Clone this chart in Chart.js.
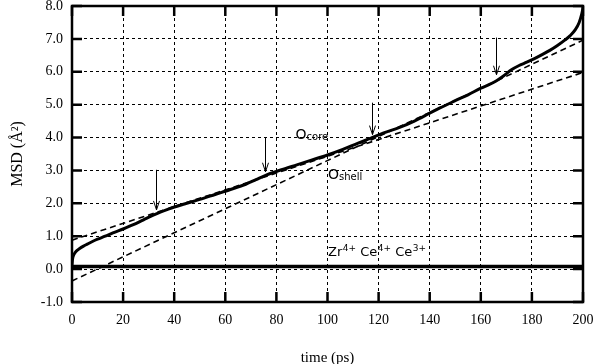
<!DOCTYPE html>
<html><head><meta charset="utf-8">
<script src="https://cdn.jsdelivr.net/npm/chart.js@4/dist/chart.umd.min.js"></script>
<style>html,body{margin:0;padding:0;background:#fff}</style>
</head><body>
<canvas id="c" width="596" height="364"></canvas>
<script>
// ---- data ----
const coreTime = [0, 0.2, 0.6, 1.2, 2, 3, 4.5, 6, 8, 10, 13, 16, 20, 24, 28, 33, 38, 44, 50, 56, 62, 68, 72, 76, 82, 88, 94, 100, 106, 112, 117, 122, 128, 134, 140, 144, 150, 155, 160, 163, 166, 169, 172, 175, 178, 181, 184, 187, 190, 193, 195, 197, 198.5, 199.5, 200];
const coreMSD  = [0.12, 0.30, 0.42, 0.50, 0.57, 0.63, 0.70, 0.76, 0.84, 0.91, 1.00, 1.10, 1.22, 1.35, 1.50, 1.68, 1.83, 1.98, 2.12, 2.27, 2.42, 2.58, 2.72, 2.86, 3.02, 3.17, 3.32, 3.47, 3.64, 3.83, 3.98, 4.14, 4.30, 4.50, 4.74, 4.90, 5.12, 5.30, 5.50, 5.60, 5.72, 5.88, 6.06, 6.19, 6.29, 6.40, 6.52, 6.65, 6.80, 6.97, 7.10, 7.28, 7.50, 7.75, 7.95];
const fitTime   = [0, 200];
const fitUpper  = [0.88, 5.98];
const fitLower  = [-0.36, 6.96];
const cationTime = [0, 200];
const cationMSD  = [0.08, 0.08];
const xTickValues = [0, 20, 40, 60, 80, 100, 120, 140, 160, 180, 200];
const yTickValues = [-1, 0, 1, 2, 3, 4, 5, 6, 7, 8];
const arrowTime = [33, 75.5, 117.5, 166];
const arrowFrom = [3.02, 3.99, 5.06, 7.04];
const arrowTo   = [1.80, 2.96, 4.09, 5.91];
const labelCore   = {t: 87.5, v: 3.96, main: 'O', sub: 'core'};
const labelShell  = {t: 100.2, v: 2.74, main: 'O', sub: 'shell'};
const labelCation = {t: 100.2, v: 0.40, parts: [['Zr','4+'],['Ce','4+'],['Ce','3+']]};

const pts = (xs, ys) => xs.map((x, i) => ({x: x, y: ys[i]}));

const serif = 'Liberation Serif';
const sans = 'DejaVu Sans';

const decor = {
  id: 'decor',
  afterDraw(chart) {
    const ctx = chart.ctx, a = chart.chartArea;
    const xs = chart.scales.x, ys = chart.scales.y;
    ctx.save();
    ctx.strokeStyle = '#000';
    ctx.fillStyle = '#000';
    ctx.lineWidth = 2.5;
    const tl = 10;
    ctx.beginPath();
    xTickValues.forEach(v => {
      const px = xs.getPixelForValue(v);
      ctx.moveTo(px, a.bottom); ctx.lineTo(px, a.bottom - tl);
      ctx.moveTo(px, a.top); ctx.lineTo(px, a.top + tl);
    });
    yTickValues.forEach(v => {
      const py = ys.getPixelForValue(v);
      ctx.moveTo(a.left, py); ctx.lineTo(a.left + tl, py);
      ctx.moveTo(a.right, py); ctx.lineTo(a.right - tl, py);
    });
    ctx.stroke();
    ctx.lineWidth = 2.5;
    ctx.strokeRect(a.left, a.top, a.right - a.left, a.bottom - a.top);
    ctx.lineWidth = 1;
    arrowTime.forEach((t, i) => {
      const px = Math.round(xs.getPixelForValue(t)) + 0.5;
      const y1 = ys.getPixelForValue(arrowFrom[i]);
      const y2 = ys.getPixelForValue(arrowTo[i]);
      ctx.beginPath();
      ctx.moveTo(px, y1); ctx.lineTo(px, y2);
      ctx.moveTo(px - 3, y2 - 9); ctx.lineTo(px, y2); ctx.lineTo(px + 3, y2 - 9);
      ctx.stroke();
    });
    ctx.textBaseline = 'alphabetic';
    ctx.textAlign = 'left';
    [labelCore, labelShell].forEach(L => {
      let x = xs.getPixelForValue(L.t), y = ys.getPixelForValue(L.v);
      ctx.font = '14px "' + sans + '"';
      ctx.fillText(L.main, x, y);
      x += ctx.measureText(L.main).width;
      ctx.font = '10px "' + sans + '"';
      ctx.fillText(L.sub, x, y + 1.5);
    });
    {
      let x = xs.getPixelForValue(labelCation.t), y = ys.getPixelForValue(labelCation.v);
      labelCation.parts.forEach(p => {
        ctx.font = '13px "' + sans + '"';
        ctx.fillText(p[0], x, y);
        x += ctx.measureText(p[0]).width;
        ctx.font = '9px "' + sans + '"';
        ctx.fillText(p[1], x + 0.5, y - 5);
        x += ctx.measureText(p[1]).width + 0.5;
        ctx.font = '13px "' + sans + '"';
        x += ctx.measureText(' ').width;
      });
    }
    ctx.restore();
  }
};

new Chart(document.getElementById('c'), {
  type: 'line',
  data: {
    datasets: [
      {data: pts(cationTime, cationMSD), borderColor: '#000', borderWidth: 3.5, pointRadius: 0, pointHoverRadius: 0, tension: 0},
      {data: pts(fitTime, fitUpper), borderColor: '#000', borderWidth: 1.6, borderDash: [6, 4], pointRadius: 0, pointHoverRadius: 0, tension: 0},
      {data: pts(fitTime, fitLower), borderColor: '#000', borderWidth: 1.6, borderDash: [6, 4], pointRadius: 0, pointHoverRadius: 0, tension: 0},
      {data: pts(coreTime, coreMSD), borderColor: '#000', borderWidth: 3, pointRadius: 0, pointHoverRadius: 0, cubicInterpolationMode: 'monotone', borderJoinStyle: 'round', borderCapStyle: 'round'}
    ]
  },
  options: {
    responsive: false,
    animation: false,
    devicePixelRatio: 1,
    layout: {autoPadding: false, padding: 0},
    plugins: {legend: {display: false}, tooltip: {enabled: false}},
    elements: {point: {radius: 0, hoverRadius: 0}},
    scales: {
      x: {
        type: 'linear', min: 0, max: 200,
        afterBuildTicks: s => { s.ticks = xTickValues.map(v => ({value: v})); },
        afterFit: s => { s.height = 62; s.paddingLeft = 0; s.paddingRight = 13; },
        grid: {color: '#000', lineWidth: 1, drawTicks: false},
        border: {display: false, dash: [3, 3]},
        ticks: {padding: 10, color: '#000', autoSkip: false, maxRotation: 0,
                font: {family: serif, size: 14, lineHeight: 1.2}, callback: v => String(v)},
        title: {display: true, text: 'time (ps)', color: '#000',
                font: {family: serif, size: 15, lineHeight: 1.2}, padding: {top: 20, bottom: -3}}
      },
      y: {
        type: 'linear', min: -1, max: 8,
        afterBuildTicks: s => { s.ticks = yTickValues.map(v => ({value: v})); },
        afterFit: s => { s.width = 72; s.paddingTop = 6; s.paddingBottom = 0; },
        grid: {color: '#000', lineWidth: 1, drawTicks: false},
        border: {display: false, dash: [3, 3]},
        ticks: {padding: 9, color: '#000', autoSkip: false,
                font: {family: serif, size: 14, lineHeight: 1.0}, callback: v => Number(v).toFixed(1)},
        title: {display: true, text: 'MSD (Å²)', color: '#000',
                font: {family: serif, size: 16, lineHeight: 1.2}, padding: {top: 8, bottom: 15}}
      }
    }
  },
  plugins: [decor]
});
</script>
</body></html>
